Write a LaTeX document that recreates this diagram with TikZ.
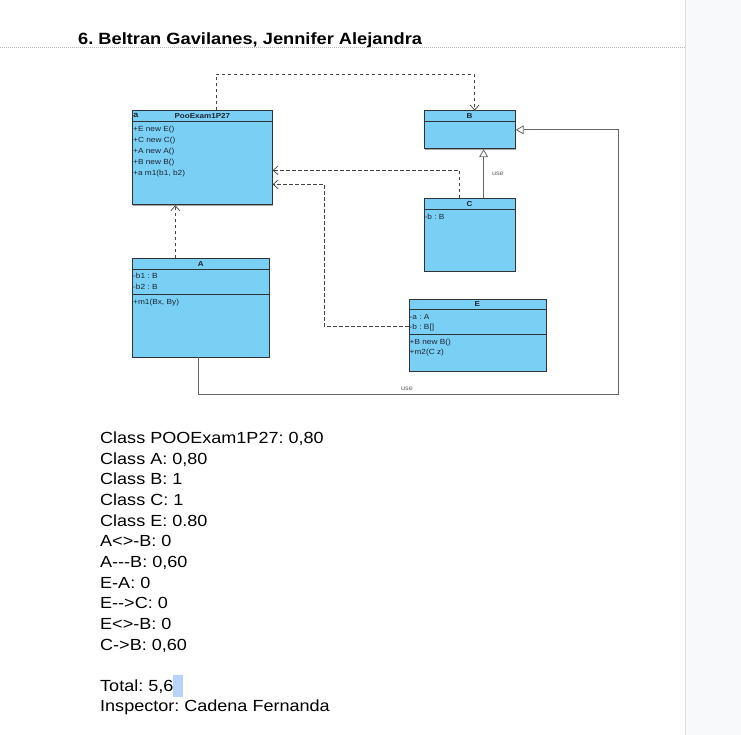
\documentclass[tikz,border=0pt]{standalone}
\usepackage{fontspec}
\setmainfont{Liberation Sans}[FakeStretch=1.12, Ligatures=TeXOff]
\usetikzlibrary{arrows.meta,calc,shadows}
\frenchspacing
\definecolor{umlfill}{HTML}{7ACFF5}
\definecolor{umlline}{HTML}{2F3236}
\definecolor{panel}{HTML}{F8F9FA}
\definecolor{hlc}{HTML}{B8D3F8}
\definecolor{depc}{HTML}{444444}
\definecolor{genc}{HTML}{666666}
\definecolor{memc}{HTML}{1C2430}
\tikzset{
  umlbox/.style={draw=umlline, line width=0.7pt, fill=umlfill, anchor=north west,
    inner sep=0pt, drop shadow={shadow xshift=1pt, shadow yshift=-1pt, fill=gray!70, opacity=1}},
  sepline/.style={draw=umlline, line width=0.8pt},
  umltitle/.style={font=\fontsize{7.2}{8}\selectfont\bfseries, text=memc, inner sep=0pt, anchor=base},
  mem/.style={font=\fontsize{7.4}{8}\selectfont, text=memc, inner sep=0pt, anchor=base west},
  dep/.style={draw=depc, line width=0.7pt, dash pattern=on 3.5pt off 2.5pt,
    -{Straight Barb[length=5pt,width=9pt,line width=0.7pt]}},
  gen/.style={draw=genc, line width=0.9pt,
    -{Triangle[open,length=8pt,width=9pt,line width=0.8pt,fill=white]}},
  lbl/.style={font=\fontsize{6.5}{7}\selectfont, text=genc, inner sep=0pt},
  listtxt/.style={font=\fontsize{16.1}{18}\selectfont, text=black, inner sep=0pt, anchor=base west},
}
\begin{document}
\begin{tikzpicture}[x=1pt,y=-1pt]
\useasboundingbox (0,0) rectangle (741,735);
\fill[white] (0,0) rectangle (741,735);
% right panel
\fill[panel] (685,0) rectangle (741,735);
\draw[gray!25, line width=1.5pt] (685.5,0) -- (685.5,735);
% header
\node[font=\fontsize{16.3}{18}\selectfont\bfseries, inner sep=0pt, anchor=base west] (title) at (78,44.5) {6. Beltran Gavilanes, Jennifer Alejandra};
\draw[gray!55, line width=0.6pt, dash pattern=on 1pt off 1pt] (0,47.3) -- (685,47.3);

% class boxes
\node[umlbox, minimum width=140pt, minimum height=94pt] (poo) at (132,110.5) {};
\node[umlbox, minimum width=137pt, minimum height=98pt] (a) at (132,258.5) {};
\node[umlbox, minimum width=91.5pt, minimum height=38pt] (b) at (423.5,110.5) {};
\node[umlbox, minimum width=91.5pt, minimum height=72pt] (c) at (423.5,198.5) {};
\node[umlbox, minimum width=137pt, minimum height=72.5pt] (e) at (408.5,298.5) {};

% separators
\draw[sepline] ($(poo.north west)+(0,10.7)$) -- ($(poo.north east)+(0,10.7)$);
\draw[sepline] ($(a.north west)+(0,10.8)$) -- ($(a.north east)+(0,10.8)$);
\draw[sepline] ($(a.north west)+(0,35.8)$) -- ($(a.north east)+(0,35.8)$);
\draw[sepline] ($(b.north west)+(0,11.2)$) -- ($(b.north east)+(0,11.2)$);
\draw[sepline] ($(c.north west)+(0,10.5)$) -- ($(c.north east)+(0,10.5)$);
\draw[sepline] ($(e.north west)+(0,10.8)$) -- ($(e.north east)+(0,10.8)$);
\draw[sepline] ($(e.north west)+(0,35.8)$) -- ($(e.north east)+(0,35.8)$);

% titles
\node[umltitle] (pooT) at ($(poo.north)+(0,8)$) {PooExam1P27};
\node[font=\fontsize{8}{8}\selectfont\bfseries, text=memc, inner sep=0pt, anchor=base west] (pooS) at ($(poo.north west)+(1.2,7)$) {a};
\node[umltitle] (aT) at ($(a.north)+(0,8)$) {A};
\node[umltitle] (bT) at ($(b.north)+(0,8)$) {B};
\node[umltitle] (cT) at ($(c.north)+(0,8.3)$) {C};
\node[umltitle] (eT) at ($(e.north)+(0,8)$) {E};

% members
\node[mem] (p1) at ($(poo.north west)+(1,21)$) {+E new E()};
\node[mem] (p2) at ($(poo.north west)+(1,32)$) {+C new C()};
\node[mem] (p3) at ($(poo.north west)+(1,43)$) {+A new A()};
\node[mem] (p4) at ($(poo.north west)+(1,54)$) {+B new B()};
\node[mem] (p5) at ($(poo.north west)+(1,65)$) {+a m1(b1, b2)};
\node[mem] (a1) at ($(a.north west)+(1,20)$) {-b1 : B};
\node[mem] (a2) at ($(a.north west)+(1,31)$) {-b2 : B};
\node[mem] (a3) at ($(a.north west)+(1,45.5)$) {+m1(Bx, By)};
\node[mem] (c1) at ($(c.north west)+(1,21.3)$) {-b : B};
\node[mem] (e1) at ($(e.north west)+(1,20.7)$) {-a : A};
\node[mem] (e2) at ($(e.north west)+(1,30.7)$) {-b : B[]};
\node[mem] (e3) at ($(e.north west)+(1,45.7)$) {+B new B()};
\node[mem] (e4) at ($(e.north west)+(1,56)$) {+m2(C z)};

% dependencies
\draw[dep] ($(poo.north)+(13.7,0)$) -- ++(0,-36.2) -| ($(b.north)+(5,0)$);
\draw[dep] ($(a.north)+(-25.5,0)$) -- ($(poo.south)+(-27,0)$);
\draw[dep] ($(c.north)+(-10,0)$) |- ($(poo.east)+(0,12.5)$);
\draw[dep] ($(e.west)+(0,-8.75)$) -- ++(-84.5,0) |- ($(poo.east)+(0,26.5)$);

% generalizations
\draw[gen] ($(c.north)+(14,0)$) -- node[lbl, right=8pt] (useC) {use} ($(b.south)+(14,0)$);
\coordinate (rc) at ($(b.east)+(103,0)$);
\draw[gen] ($(a.south)+(-2.2,0)$) |- ($(rc)+(0,265)$) -- (rc) -- (b.east);
\node[lbl] (useA) at (407,389) {use};

% text list
\foreach \t [count=\i from 0] in {Class POOExam1P27: 0{,}80, Class A: 0{,}80, Class B: 1, Class C: 1, Class E: 0.80, A<>-B: 0, A---B: 0{,}60, E-A: 0, E-->C: 0, E<>-B: 0, C->B: 0{,}60}
  \node[listtxt] (l\i) at (100,443.7+20.63*\i) {\t};
\fill[hlc] (172.5,675) rectangle (182.7,696.7);
\node[listtxt] (total) at (100,691.3) {Total: 5,6};
\node[listtxt] (insp) at (100,711.9) {Inspector: Cadena Fernanda};
\end{tikzpicture}
\end{document}
